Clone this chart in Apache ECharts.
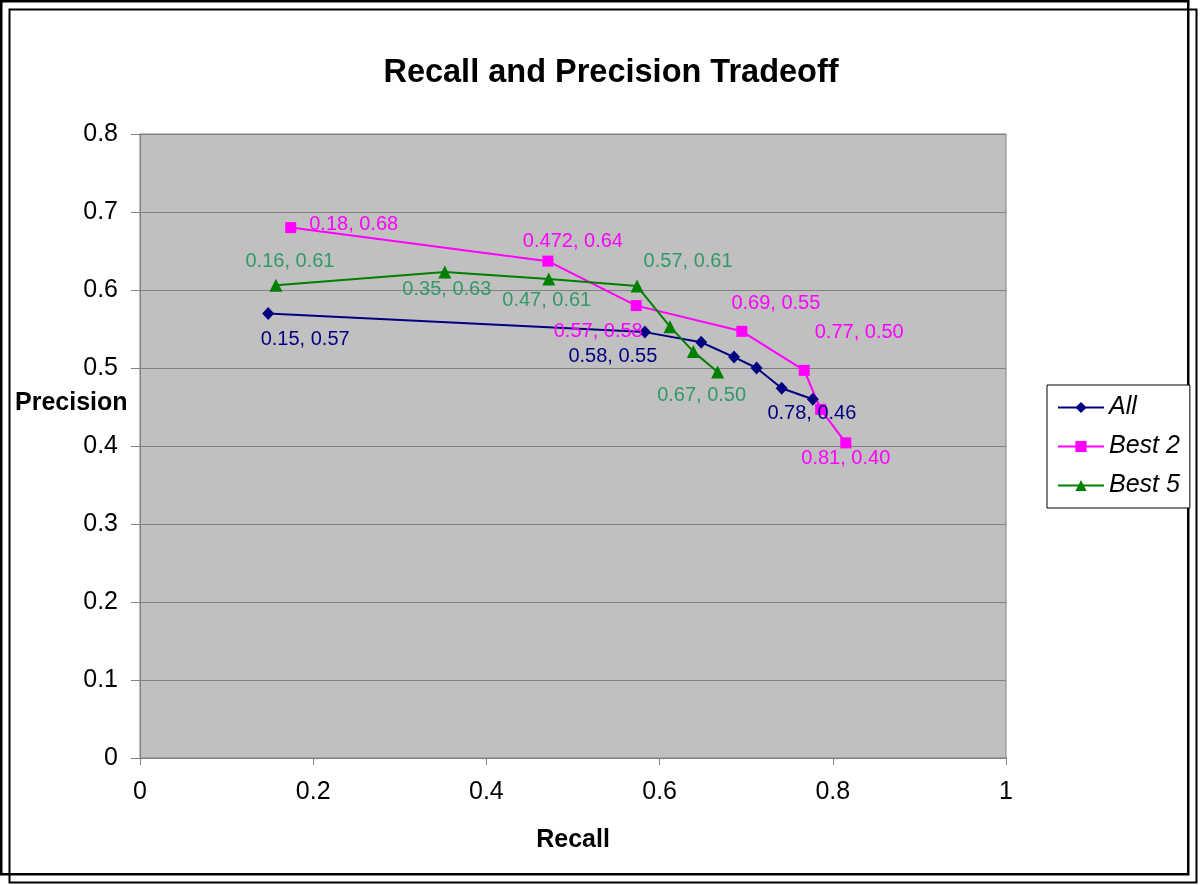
<!DOCTYPE html>
<html>
<head>
<meta charset="utf-8">
<title>Recall and Precision Tradeoff</title>
<script src="https://cdn.jsdelivr.net/npm/echarts@6/dist/echarts.min.js"></script>
<style>
  html, body { margin: 0; padding: 0; background: #fff; }
  #main { width: 1200px; height: 885px; }
</style>
</head>
<body>
<div id="main"></div>
<script>
// series names
const seriesNames = ['All', 'Best 2', 'Best 5'];

// recall (x) and precision (y) per series
const allRecall = [0.148, 0.583, 0.648, 0.686, 0.712, 0.741, 0.777];
const allPrecision = [0.570, 0.546, 0.533, 0.514, 0.500, 0.474, 0.460];
const allLabels = ['0.15, 0.57', '0.58, 0.55', null, null, null, null, '0.78, 0.46'];

const best2Recall = [0.174, 0.471, 0.573, 0.695, 0.767, 0.786, 0.815];
const best2Precision = [0.680, 0.637, 0.580, 0.547, 0.497, 0.447, 0.404];
const best2Labels = ['0.18, 0.68', '0.472, 0.64', '0.57, 0.58', '0.69, 0.55', '0.77, 0.50', null, '0.81, 0.40'];

const best5Recall = [0.157, 0.352, 0.472, 0.574, 0.612, 0.639, 0.667];
const best5Precision = [0.606, 0.623, 0.614, 0.605, 0.553, 0.521, 0.495];
const best5Labels = ['0.16, 0.61', '0.35, 0.63', '0.47, 0.61', '0.57, 0.61', null, null, '0.67, 0.50'];

// tick labels
const xTicks = ['0', '0.2', '0.4', '0.6', '0.8', '1'];
const yTicks = ['0', '0.1', '0.2', '0.3', '0.4', '0.5', '0.6', '0.7', '0.8'];

// label offsets from the marker (pixels), only layout
const allOffsets = [[37, 26], [-32, 24], null, null, null, null, [-1, 14]];
const best2Offsets = [[63, -3], [25, -20], [-38, 26], [34, -28], [55, -38], null, [0, 16]];
const best5Offsets = [[14, -24], [2, 17], [-2, 21], [51, -25], null, null, [-16, 24]];

const FONT = 'Liberation Sans, Arial, sans-serif';

function buildData(xs, ys, labels, offsets) {
  return xs.map((x, i) => ({
    value: [x, ys[i]],
    label: labels[i]
      ? { show: true, formatter: labels[i], offset: offsets[i] }
      : { show: false }
  }));
}

function lineSeries(name, xs, ys, labels, offsets, color, labelColor, symbol, size) {
  return {
    name: name,
    type: 'line',
    data: buildData(xs, ys, labels, offsets),
    symbol: symbol,
    symbolSize: size,
    color: color,
    lineStyle: { color: color, width: 2 },
    itemStyle: { color: color },
    label: {
      position: 'inside',
      align: 'center',
      verticalAlign: 'middle',
      color: labelColor,
      fontSize: 20,
      fontFamily: FONT
    },
    emphasis: { disabled: true },
    animation: false
  };
}

let chart = echarts.init(document.getElementById('main'));

let option = {
  backgroundColor: '#fff',
  title: {
    text: 'Recall and Precision Tradeoff',
    left: 606,
    top: 52,
    textAlign: 'center',
    textStyle: { fontSize: 32.5, fontWeight: 'bold', color: '#000', fontFamily: FONT }
  },
  legend: {
    orient: 'vertical',
    left: 1047,
    top: 385,
    width: 145,
    data: seriesNames,
    padding: [10, 10, 10, 10],
    itemWidth: 46,
    itemHeight: 14,
    itemGap: 14,
    backgroundColor: '#fff',
    borderColor: '#000',
    borderWidth: 1,
    textStyle: { fontSize: 25, fontStyle: 'italic', color: '#000', fontFamily: FONT }
  },
  grid: {
    left: 140,
    right: 194,
    top: 134,
    bottom: 127,
    containLabel: false,
    outerBoundsMode: 'none',
    show: true,
    backgroundColor: '#C0C0C0',
    borderColor: '#808080',
    borderWidth: 1
  },
  xAxis: {
    type: 'value',
    min: 0,
    max: 1,
    interval: 0.2,
    name: 'Recall',
    nameLocation: 'middle',
    nameGap: 82,
    nameTextStyle: { fontSize: 25, fontWeight: 'bold', color: '#000', fontFamily: FONT, verticalAlign: 'middle' },
    axisLine: { show: true, lineStyle: { color: '#808080', width: 1 } },
    axisTick: { show: true, length: 7, lineStyle: { color: '#808080' } },
    axisLabel: {
      margin: 22,
      fontSize: 25,
      color: '#000',
      fontFamily: FONT,
      formatter: (v) => xTicks[Math.round(v / 0.2)]
    },
    splitLine: { show: false }
  },
  yAxis: {
    type: 'value',
    min: 0,
    max: 0.8,
    interval: 0.1,
    axisLine: { show: true, lineStyle: { color: '#808080', width: 1 } },
    axisTick: { show: true, length: 9, lineStyle: { color: '#808080' } },
    axisLabel: {
      margin: 22,
      fontSize: 25,
      color: '#000',
      fontFamily: FONT,
      formatter: (v) => yTicks[Math.round(v / 0.1)]
    },
    splitLine: { show: true, lineStyle: { color: '#808080', width: 1 } }
  },
  graphic: [
    { type: 'rect', shape: { x: 1.25, y: 1.25, width: 1187, height: 873 }, style: { fill: null, stroke: '#000', lineWidth: 2.5 }, silent: true },
    { type: 'rect', shape: { x: 9.5, y: 9.5, width: 1187, height: 873 }, style: { fill: null, stroke: '#000', lineWidth: 2 }, silent: true },
    // y axis title, horizontal like the original
    {
      type: 'text', left: 15, top: 391, silent: true,
      style: { text: 'Precision', fontSize: 25, fontWeight: 'bold', fill: '#000', fontFamily: FONT }
    }
  ],
  series: [
    lineSeries(seriesNames[0], allRecall, allPrecision, allLabels, allOffsets, '#000080', '#000080', 'diamond', [12, 13]),
    lineSeries(seriesNames[1], best2Recall, best2Precision, best2Labels, best2Offsets, '#FF00FF', '#FF00FF', 'rect', 11),
    lineSeries(seriesNames[2], best5Recall, best5Precision, best5Labels, best5Offsets, '#008000', '#339966', 'triangle', 13)
  ]
};

chart.setOption(option);
</script>
</body>
</html>
